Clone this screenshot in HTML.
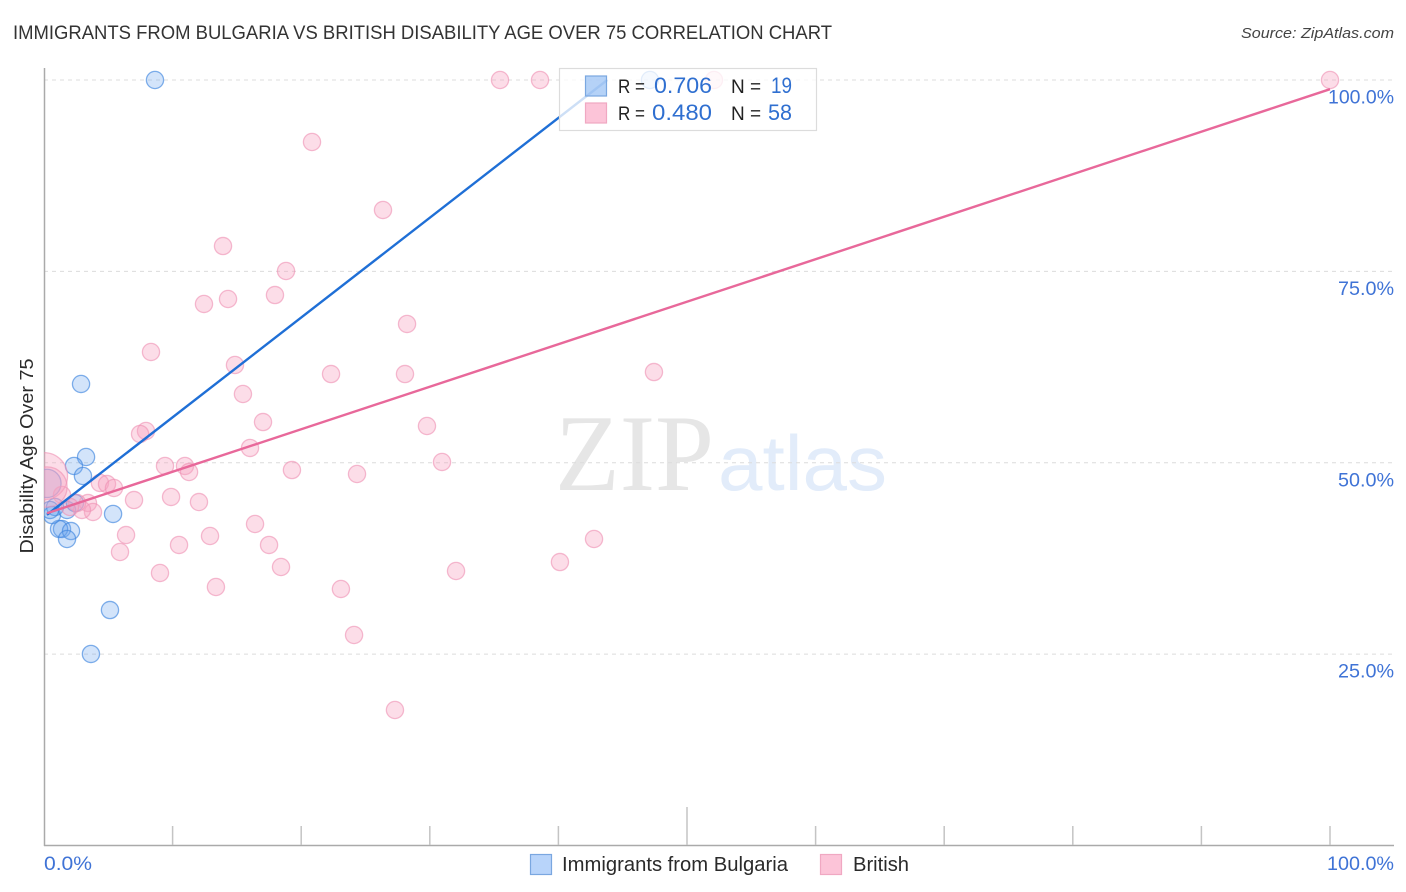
<!DOCTYPE html>
<html lang="en">
<head>
<meta charset="utf-8">
<title>Immigrants from Bulgaria vs British Disability Age Over 75 Correlation Chart</title>
<style>
html,body{margin:0;padding:0;background:#fff;}
svg{display:block;font-family:"Liberation Sans",sans-serif;}
</style>
</head>
<body>
<svg id="chart" width="1406" height="892" viewBox="0 0 1406 892" xmlns="http://www.w3.org/2000/svg">
  <defs>
    <clipPath id="plot-clip"><rect x="44" y="60" width="1360" height="786"/></clipPath>
  </defs>
  <text x="13" y="39" font-size="19" fill="#333333" textLength="819" lengthAdjust="spacingAndGlyphs">IMMIGRANTS FROM BULGARIA VS BRITISH DISABILITY AGE OVER 75 CORRELATION CHART</text>
  <text x="1394" y="38" font-size="15" font-style="italic" fill="#444" text-anchor="end" textLength="153" lengthAdjust="spacingAndGlyphs">Source: ZipAtlas.com</text>
  <g>
    <text x="555" y="490" font-family="'Liberation Serif',serif" font-size="109" fill="#e6e6e6" textLength="159" lengthAdjust="spacingAndGlyphs">ZIP</text>
    <text x="718" y="490" font-family="'Liberation Sans',sans-serif" font-size="78" fill="#e2ecfa" textLength="169" lengthAdjust="spacingAndGlyphs">atlas</text>
  </g>
  <g id="grid"></g>
  <g id="axes"></g>
  <g id="points-blue" clip-path="url(#plot-clip)"></g>
  <g id="points-pink" clip-path="url(#plot-clip)"></g>
  <g id="lines"></g>
  <g id="ylabels"></g>
  <text transform="translate(33,456) rotate(-90)" font-size="18" fill="#2a2a2a" text-anchor="middle" textLength="195" lengthAdjust="spacingAndGlyphs">Disability Age Over 75</text>
  <text x="44" y="870" font-size="19" fill="#3f73d6" textLength="48" lengthAdjust="spacingAndGlyphs">0.0%</text>
  <text x="1394" y="870" font-size="19" fill="#3f73d6" text-anchor="end" textLength="67" lengthAdjust="spacingAndGlyphs">100.0%</text>

  <g>
    <rect x="559.5" y="68.5" width="257" height="62" fill="#fff" fill-opacity="0.78" stroke="#dcdcdc" stroke-width="1.2"/>
    <rect x="585.5" y="76" width="21" height="20" fill="#84b4f2" fill-opacity="0.6" stroke="#7aa7e0" stroke-width="1.2"/>
    <rect x="585.5" y="103" width="21" height="20" fill="#fcc4d8" stroke="#f0a8c2" stroke-width="1.2"/>
    <text x="618" y="93" font-size="19" fill="#222" textLength="27" lengthAdjust="spacingAndGlyphs">R =</text>
    <text x="654" y="93" font-size="22" fill="#2f6fd0" textLength="58" lengthAdjust="spacingAndGlyphs">0.706</text>
    <text x="731" y="93" font-size="19" fill="#222">N =</text>
    <text x="771" y="93" font-size="22" fill="#2f6fd0" textLength="21" lengthAdjust="spacingAndGlyphs">19</text>
    <text x="618" y="120" font-size="19" fill="#222" textLength="27" lengthAdjust="spacingAndGlyphs">R =</text>
    <text x="652" y="120" font-size="22" fill="#2f6fd0" textLength="60" lengthAdjust="spacingAndGlyphs">0.480</text>
    <text x="731" y="120" font-size="19" fill="#222">N =</text>
    <text x="768" y="120" font-size="22" fill="#2f6fd0" textLength="24" lengthAdjust="spacingAndGlyphs">58</text>
  </g>

  <g>
    <g>
      <rect x="530.5" y="854.5" width="21" height="20" fill="#b8d4fa" stroke="#7aa7e0" stroke-width="1.2"/>
      <text x="562" y="871" font-size="20" fill="#2a2a2a" textLength="226" lengthAdjust="spacingAndGlyphs">Immigrants from Bulgaria</text>
    </g>
    <g>
      <rect x="820.5" y="854.5" width="21" height="20" fill="#fcc4d8" stroke="#f0a8c2" stroke-width="1.2"/>
      <text x="853" y="871" font-size="20" fill="#2a2a2a" textLength="56" lengthAdjust="spacingAndGlyphs">British</text>
    </g>
  </g>
</svg>
<script>
const yTickValues = [25, 50, 75, 100];
const yTickLabels = ["25.0%", "50.0%", "75.0%", "100.0%"];
const xTickValues = [0, 10, 20, 30, 40, 50, 60, 70, 80, 90, 100];

const bulgariaX = [8.63, 47.12, 2.88, 3.65, 5.13, 5.37, 3.27, 2.33, 3.03, 1.40, 1.17, 2.10, 1.79, 0.23, 0.62, 0.86, 1.79, 2.41, 0.47];
const bulgariaY = [100, 100, 60.29, 25.02, 30.76, 43.31, 50.75, 49.58, 48.27, 41.35, 41.35, 41.08, 40.04, 47.30, 43.17, 44.22, 43.83, 44.74, 43.83];
const bulgariaWeight = [1, 1, 1, 1, 1, 1, 1, 1, 1, 1, 1, 1, 1, 2.7, 1, 1, 1, 1, 1];

const britishX = [35.46, 38.57, 52.10, 100, 20.84, 26.36, 13.92, 18.82, 17.96, 14.31, 12.44, 28.23, 8.32, 14.85, 22.32, 28.07, 47.43, 15.47, 17.03, 29.78, 7.93, 7.47, 16.02, 30.95, 9.41, 10.96, 11.28, 19.28, 24.34, 4.35, 4.90, 5.44, 7.00, 9.88, 12.05, 3.42, 3.81, 2.95, 2.57, 1.40, 2.02, 16.41, 12.91, 6.38, 10.50, 17.50, 5.91, 42.77, 40.12, 18.43, 9.02, 32.04, 13.37, 23.09, 24.11, 27.29, 0.00, 0.23];
const britishY = [100, 100, 100, 100, 91.90, 83.02, 78.31, 75.05, 71.91, 71.39, 70.74, 68.13, 64.47, 62.77, 61.59, 61.59, 61.85, 58.98, 55.32, 54.80, 54.15, 53.76, 51.93, 50.10, 49.58, 49.58, 48.79, 49.05, 48.53, 47.36, 47.22, 46.70, 45.13, 45.53, 44.87, 44.74, 43.57, 43.83, 44.74, 45.79, 44.22, 42.00, 40.43, 40.56, 39.26, 39.26, 38.34, 40.04, 37.03, 36.38, 35.60, 35.86, 33.77, 33.51, 27.50, 17.70, 48.25, 46.83];
const britishWeight = [1, 1, 1, 1, 1, 1, 1, 1, 1, 1, 1, 1, 1, 1, 1, 1, 1, 1, 1, 1, 1, 1, 1, 1, 1, 1, 1, 1, 1, 1, 1, 1, 1, 1, 1, 1, 1, 1, 1, 1, 1, 1, 1, 1, 1, 1, 1, 1, 1, 1, 1, 1, 1, 1, 1, 1, 7.5, 5.5];

const bulgariaTrendX = [0.23, 43.8];
const bulgariaTrendY = [43.2, 100];
const britishTrendX = [0.23, 100];
const britishTrendY = [43.4, 98.8];

const NS = "http://www.w3.org/2000/svg";
function xScale(v) { return 44 + v * 12.86; }
function yScale(v) { return 845.5 - v * 7.655; }
function rScale(w) { return 8.6 * Math.sqrt(w); }
function make(tag, attrs, parent) {
  const el = document.createElementNS(NS, tag);
  for (const k in attrs) el.setAttribute(k, attrs[k]);
  parent.appendChild(el);
  return el;
}

const gridG = document.getElementById("grid");
yTickValues.forEach(function (v) {
  const el = make("line", { x1: 44, x2: 1394, y1: yScale(v), y2: yScale(v), stroke: "#dcdcdc", "stroke-width": 1, "stroke-dasharray": "4 4" }, gridG);
  
  
});

const axesG = document.getElementById("axes");
const yAxisLine = make("line", { x1: 44.5, x2: 44.5, y1: 68, y2: 846, stroke: "#aaaaaa", "stroke-width": 1.5 }, axesG);


const xAxisLine = make("line", { x1: 44, x2: 1394, y1: 845.5, y2: 845.5, stroke: "#aaaaaa", "stroke-width": 1.5 }, axesG);


xTickValues.forEach(function (v) {
  if (v === 0) return;
  const top = v === 50 ? 807 : 826;
  const el = make("line", { x1: xScale(v), x2: xScale(v), y1: top, y2: 845, stroke: "#c4c4c4", "stroke-width": 1.5 }, axesG);
  
  
});

const yLabelG = document.getElementById("ylabels");
yTickValues.forEach(function (v, i) {
  const el = make("text", { x: 1394, y: yScale(v) + 23.5, "font-size": 19, fill: "#3f73d6", "text-anchor": "end", textLength: i === 3 ? 66 : 56, lengthAdjust: "spacingAndGlyphs" }, yLabelG);
  
  
  el.textContent = yTickLabels[i];
});

function drawPoints(groupId, xs, ys, ws, fill, fillOpacity, stroke, strokeOpacity) {
  const g = document.getElementById(groupId);
  xs.forEach(function (x, i) {
    const el = make("circle", { cx: xScale(x), cy: yScale(ys[i]), r: rScale(ws[i]), fill: fill, "fill-opacity": fillOpacity, stroke: stroke, "stroke-opacity": strokeOpacity, "stroke-width": 1.3 }, g);
    
    
  });
}
drawPoints("points-blue", bulgariaX, bulgariaY, bulgariaWeight, "#6ea6ee", 0.3, "#3f86de", 0.65);
drawPoints("points-pink", britishX, britishY, britishWeight, "#f6a0be", 0.36, "#ee8fb2", 0.6);

const lineG = document.getElementById("lines");
const bulgariaLine = make("line", { x1: xScale(bulgariaTrendX[0]), y1: yScale(bulgariaTrendY[0]), x2: xScale(bulgariaTrendX[1]), y2: yScale(bulgariaTrendY[1]), stroke: "#1f6fd6", "stroke-width": 2.4 }, lineG);


const britishLine = make("line", { x1: xScale(britishTrendX[0]), y1: yScale(britishTrendY[0]), x2: xScale(britishTrendX[1]), y2: yScale(britishTrendY[1]), stroke: "#e8689a", "stroke-width": 2.4 }, lineG);


</script>
</body>
</html>
